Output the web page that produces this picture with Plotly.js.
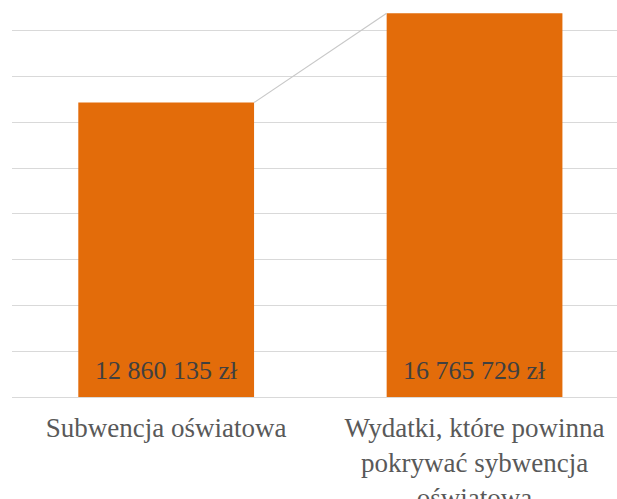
<!DOCTYPE html>
<html>
<head>
<meta charset="utf-8">
<script src="https://cdn.plot.ly/plotly-3.0.1.min.js"></script>
<style>html,body{margin:0;padding:0;background:#fff;}#chart{width:617px;height:499px;}</style>
</head>
<body>
<div id="chart"></div>
<script>
const categories = ["Subwencja oświatowa", "Wydatki, które powinna<br>pokrywać sybwencja<br>oświatowa"];
const values = [12860135, 16765729];
const currency = " zł";

const barColor = "#E36C0A";
const barWidth = 0.57;
const serif = "Times New Roman, Liberation Serif, DejaVu Serif, serif";
const positions = categories.map((c, i) => i);

function fmt(v) {
  return String(v).replace(/\B(?=(\d{3})+(?!\d))/g, " ") + currency;
}

const bars = {
  type: "bar",
  x: positions,
  y: values,
  width: barWidth,
  marker: {color: barColor},
  hoverinfo: "skip",
  showlegend: false
};

const seriesLine = {
  type: "scatter",
  mode: "lines",
  x: [positions[0] + barWidth / 2, positions[1] - barWidth / 2],
  y: [values[0], values[1]],
  line: {color: "#c8c8c8", width: 1.2},
  hoverinfo: "skip",
  showlegend: false
};

const annotations = values.map((v, i) => ({
  x: positions[i], y: 0, xref: "x", yref: "y",
  text: fmt(v), showarrow: false,
  yanchor: "bottom", yshift: 10,
  font: {family: serif, size: 26, color: "#404040"}
}));

const layout = {
  width: 617, height: 499,
  margin: {l: 12, r: 0, t: 0, b: 102},
  paper_bgcolor: "#ffffff",
  plot_bgcolor: "#ffffff",
  xaxis: {
    range: [-0.5, 1.462],
    tickmode: "array",
    tickvals: positions,
    ticktext: categories,
    showgrid: false, zeroline: false, showline: false,
    ticks: "",
    ticklabelstandoff: 12,
    tickfont: {family: serif, size: 27, color: "#595959"},
    fixedrange: true
  },
  yaxis: {
    range: [0, 17341000],
    dtick: 2000000,
    showgrid: true, gridcolor: "#d9d9d9", gridwidth: 1,
    zeroline: true, zerolinecolor: "#d9d9d9", zerolinewidth: 1,
    showticklabels: false, ticks: "",
    fixedrange: true
  },
  annotations: annotations,
  showlegend: false
};

Plotly.newPlot("chart", [bars, seriesLine], layout, {displayModeBar: false, staticPlot: true});
</script>
</body>
</html>
